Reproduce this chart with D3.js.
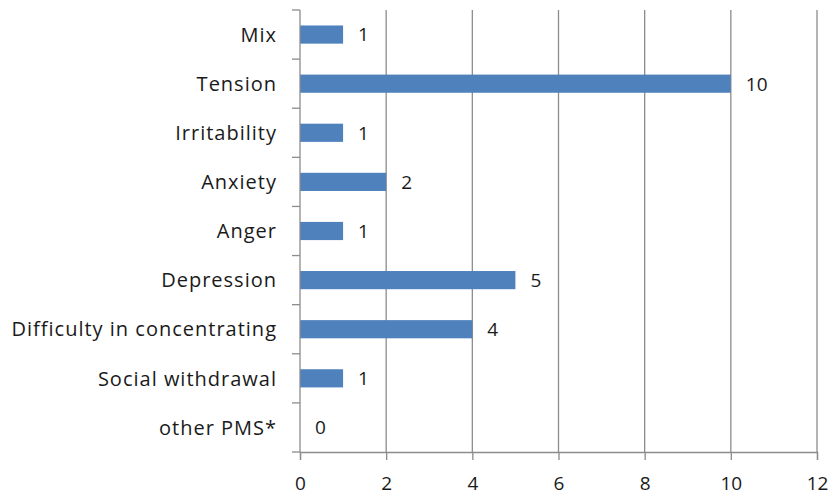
<!DOCTYPE html>
<html><head><meta charset="utf-8">
<script src="https://cdn.jsdelivr.net/npm/d3@7"></script>
<style>body{margin:0;background:#fff}svg{display:block}text{font-family:"Open Sans",sans-serif;fill:#1a1a1a}</style>
</head><body><svg id="c" width="833" height="497"></svg>
<script>
const categories = ["Mix","Tension","Irritability","Anxiety","Anger","Depression","Difficulty in concentrating","Social withdrawal","other PMS*"];
const values = [1,10,1,2,1,5,4,1,0];
const xTicks = [0,2,4,6,8,10,12];

const svg = d3.select("#c");
const m = {left:300, right:817, top:10, bottom:452};
const x = d3.scaleLinear().domain([0,12]).range([m.left, m.right]);
const y = d3.scaleBand().domain(categories).range([m.top, m.bottom]).paddingInner(0.63).paddingOuter(0.315);
const yOuter = d3.scaleBand().domain(categories).range([m.top, m.bottom]);

// gridlines
svg.append("g").selectAll("line").data(xTicks.slice(1)).join("line")
  .attr("x1",d=>x(d)).attr("x2",d=>x(d)).attr("y1",m.top).attr("y2",m.bottom)
  .attr("stroke","#8c8c8c").attr("stroke-width",1.3);

// bars
svg.append("g").selectAll("rect").data(categories).join("rect")
  .attr("x",x(0)).attr("y",d=>y(d)).attr("height",y.bandwidth())
  .attr("width",(d,i)=>x(values[i])-x(0)).attr("fill","#4f81bd");

// value labels
svg.append("g").selectAll("text").data(categories).join("text")
  .attr("x",(d,i)=>x(values[i])+15).attr("y",d=>y(d)+y.bandwidth()/2).attr("dy","0.36em")
  .attr("font-size",19).text((d,i)=>values[i]);

// x axis
const xa = svg.append("g").attr("transform",`translate(0,${m.bottom})`)
  .call(d3.axisBottom(x).tickValues(xTicks).tickSize(8).tickPadding(17));
xa.select(".domain").attr("stroke","#8c8c8c").attr("stroke-width",1.3);
xa.selectAll(".tick line").attr("stroke","#8c8c8c").attr("stroke-width",1.3);
xa.selectAll("text").attr("font-size",19).attr("font-family","Open Sans").attr("fill","#1a1a1a");

// y axis with ticks between categories
const ya = svg.append("g");
ya.append("line").attr("x1",m.left).attr("x2",m.left).attr("y1",m.top).attr("y2",m.bottom)
  .attr("stroke","#8c8c8c").attr("stroke-width",1.3);
const bounds = categories.map(c=>yOuter(c)).concat([m.bottom]);
ya.selectAll("line.t").data(bounds).join("line").attr("class","t")
  .attr("x1",m.left-8).attr("x2",m.left).attr("y1",d=>d).attr("y2",d=>d)
  .attr("stroke","#8c8c8c").attr("stroke-width",1.3);
ya.selectAll("text").data(categories).join("text")
  .attr("x",277).attr("y",d=>yOuter(d)+yOuter.bandwidth()/2).attr("dy","0.36em")
  .attr("text-anchor","end").attr("font-size",20).attr("letter-spacing",1).text(d=>d);
</script></body></html>
